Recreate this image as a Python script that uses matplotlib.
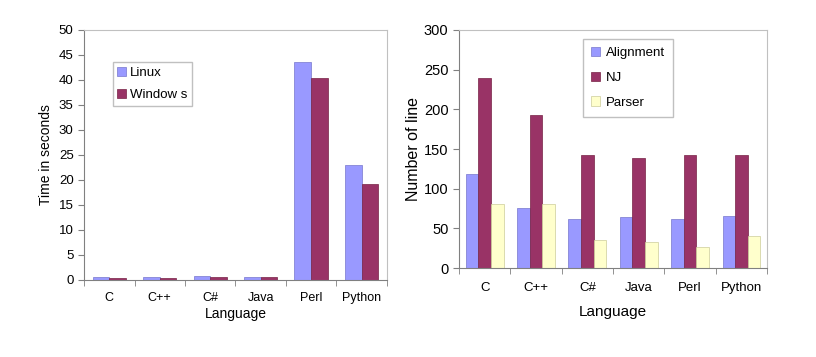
import numpy as np
import matplotlib
matplotlib.use("Agg")
import matplotlib.pyplot as plt

plt.rcParams['font.family'] = ['Liberation Sans', 'DejaVu Sans']

languages = ['C', 'C++', 'C#', 'Java', 'Perl', 'Python']

# left chart: run time
linux_time = [0.5, 0.5, 0.7, 0.5, 43.5, 23.0]
windows_time = [0.3, 0.3, 0.5, 0.5, 40.3, 19.2]

# right chart: lines of code
alignment_lines = [119, 76, 62, 64, 62, 66]
nj_lines = [240, 193, 142, 139, 142, 142]
parser_lines = [81, 81, 36, 33, 26, 41]

blue = '#9999ff'
plum = '#993366'
cream = '#ffffcc'

fig = plt.figure(figsize=(8.16, 3.57), dpi=100)
ax1 = fig.add_axes([0.103, 0.216, 0.371, 0.700])
ax2 = fig.add_axes([0.5625, 0.249, 0.3775, 0.667])

def style_axes(ax, ymax, ystep):
    x = np.arange(len(languages))
    ax.set_xlim(-0.5, len(languages) - 0.5)
    ax.set_ylim(0, ymax)
    ax.set_yticks(np.arange(0, ymax + 1, ystep))
    ax.set_xticks(x)
    ax.set_xticklabels(languages)
    ax.set_xticks(np.arange(-0.5, len(languages)), minor=True)
    ax.tick_params(axis='x', which='major', length=0, pad=9, labelsize=9)
    ax.tick_params(axis='x', which='minor', length=4, color='#808080')
    ax.tick_params(axis='y', length=4, color='#808080', labelsize=9.5)
    for s in ['left', 'bottom']:
        ax.spines[s].set_color('#808080')
    for s in ['top', 'right']:
        ax.spines[s].set_color('#c0c0c0')

x = np.arange(len(languages))

# left: two bars per language
w = 0.33
ax1.bar(x - w / 2, linux_time, w, color=blue, edgecolor='#7777cc', linewidth=0.5, label='Linux')
ax1.bar(x + w / 2, windows_time, w, color=plum, edgecolor='#772244', linewidth=0.5, label='Window s')
style_axes(ax1, 50, 5)
ax1.set_xlabel('Language', fontsize=10, labelpad=2)
ax1.set_ylabel('Time in seconds', fontsize=10, labelpad=4)
ax1.legend(loc='upper left', bbox_to_anchor=(0.094, 0.872), fontsize=9.5,
           handlelength=0.7, handleheight=0.7, handletextpad=0.3,
           labelspacing=0.75, borderpad=0.35, borderaxespad=0, fancybox=False,
           edgecolor='#c0c0c0', framealpha=1)

# right: three bars per language
w = 0.245
ax2.bar(x - w, alignment_lines, w, color=blue, edgecolor='#7777cc', linewidth=0.5, label='Alignment')
ax2.bar(x, nj_lines, w, color=plum, edgecolor='#772244', linewidth=0.5, label='NJ')
ax2.bar(x + w, parser_lines, w, color=cream, edgecolor='#cccc99', linewidth=0.5, label='Parser')
style_axes(ax2, 300, 50)
ax2.tick_params(axis='x', which='major', labelsize=9.5, pad=10)
ax2.tick_params(axis='y', labelsize=10.5)
ax2.set_xlabel('Language', fontsize=11, labelpad=8)
ax2.set_ylabel('Number of line', fontsize=11.5, labelpad=2)
ax2.legend(loc='upper left', bbox_to_anchor=(0.403, 0.962), fontsize=9.5,
           handlelength=0.7, handleheight=0.7, handletextpad=0.4,
           labelspacing=0.95, borderpad=0.6, borderaxespad=0, fancybox=False,
           edgecolor='#c0c0c0', framealpha=1)

fig.savefig('out.png', dpi=100)
